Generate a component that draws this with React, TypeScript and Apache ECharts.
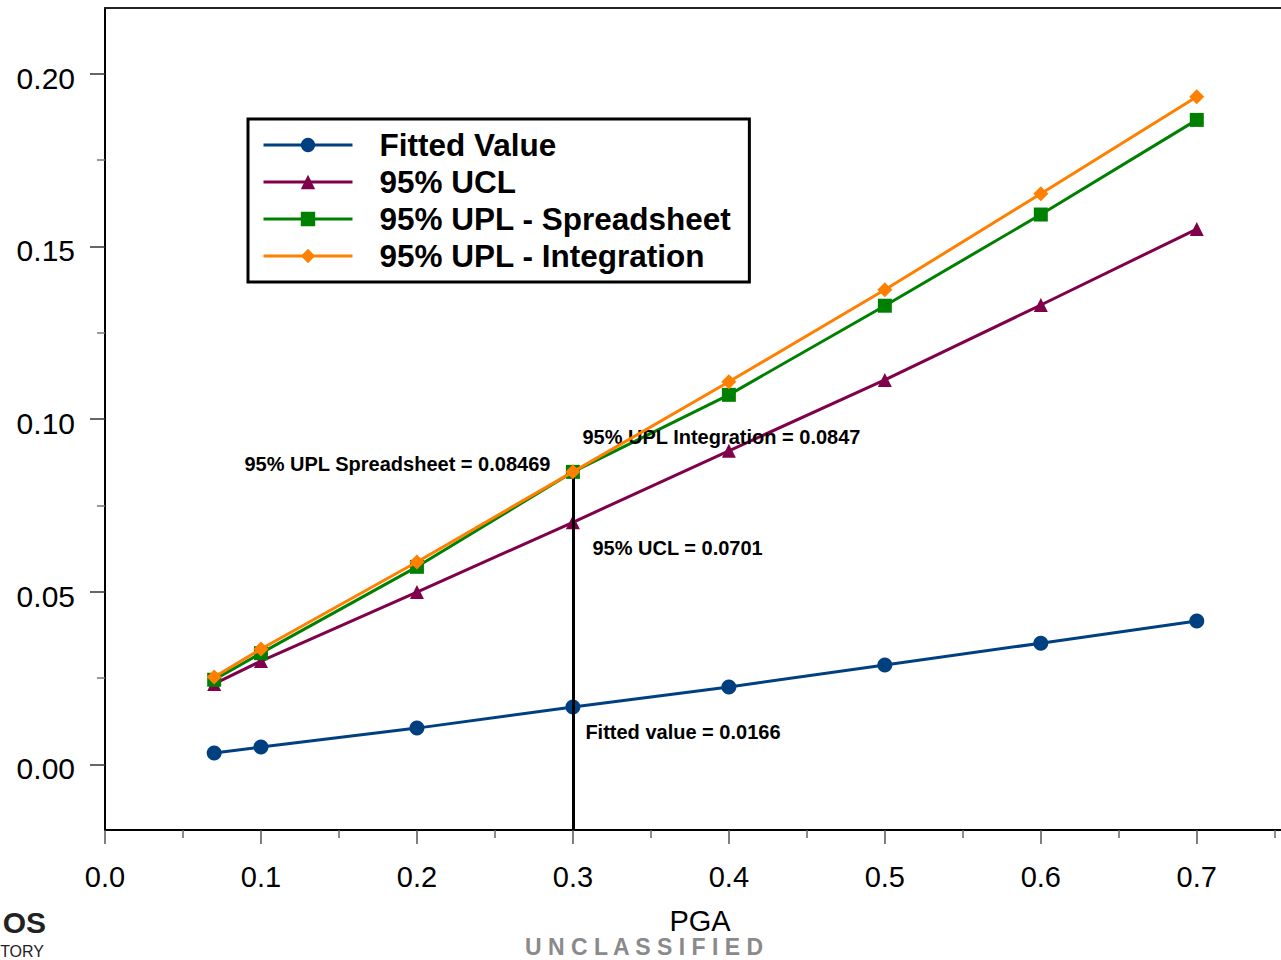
import React, { useEffect, useRef } from "react";
import * as echarts from "echarts";

const FONT = "'Liberation Sans', Arial, Helvetica, sans-serif";

const seriesNames = ["Fitted Value", "95% UCL", "95% UPL - Spreadsheet", "95% UPL - Integration"];
const pga = [0.07, 0.1, 0.2, 0.3, 0.4, 0.5, 0.6, 0.7];
const fittedValue = [0.0033, 0.005, 0.0105, 0.0166, 0.0224, 0.0288, 0.0351, 0.0415];
const ucl95 = [0.0233, 0.0299, 0.0499, 0.0701, 0.0908, 0.1113, 0.133, 0.155];
const uplSpreadsheet = [0.0245, 0.0322, 0.0572, 0.08469, 0.107, 0.1328, 0.1592, 0.1866];
const uplIntegration = [0.0253, 0.0334, 0.0586, 0.0847, 0.1108, 0.1374, 0.1652, 0.1933];

const xMajorTicks = [0, 0.1, 0.2, 0.3, 0.4, 0.5, 0.6, 0.7];
const xMinorTicks = [0.05, 0.15, 0.25, 0.35, 0.45, 0.55, 0.65, 0.75];
const yMajorTicks = [0, 0.05, 0.1, 0.15, 0.2];
const yMinorTicks = [0.025, 0.075, 0.125, 0.175];

const X_MIN = 0;
const X_MAX = 0.754;
const Y_MIN = -0.019;
const Y_MAX = 0.219;

const highlightIndex = 3; // PGA = 0.3

const colors = ["#004080", "#80004a", "#008000", "#ff8000"];
const symbols = ["circle", "triangle", "rect", "diamond"];
const symbolSizes = [15, 14, 14, 15];

export default function App() {
  const ref = useRef<HTMLDivElement>(null);

  useEffect(() => {
    if (!ref.current) return;
    const chart = echarts.init(ref.current, undefined, { renderer: "svg" });
    const allData = [fittedValue, ucl95, uplSpreadsheet, uplIntegration];
    const hx = pga[highlightIndex];

    const annotation = (text: string, value: number, position: number[], align: string) => ({
      symbol: "rect",
      symbolSize: 1,
      silent: true,
      itemStyle: { color: "rgba(0,0,0,0)" },
      label: {
        show: true,
        formatter: text,
        position,
        align,
        verticalAlign: "middle",
        fontFamily: FONT,
        fontSize: 20,
        fontWeight: "bold",
        color: "#000",
      },
      data: [{ coord: [hx, value] }],
    });

    const marks = [
      annotation(`Fitted value = ${fittedValue[highlightIndex]}`, fittedValue[highlightIndex], [13, 25], "left"),
      annotation(`95% UCL = ${ucl95[highlightIndex]}`, ucl95[highlightIndex], [20, 26], "left"),
      annotation(`95% UPL Spreadsheet = ${uplSpreadsheet[highlightIndex]}`, uplSpreadsheet[highlightIndex], [-22, -7], "right"),
      annotation(`95% UPL Integration = ${uplIntegration[highlightIndex]}`, uplIntegration[highlightIndex], [10, -34], "left"),
    ];

    const series: any[] = seriesNames.map((name, i) => ({
      name,
      type: "line",
      xAxisIndex: 0,
      yAxisIndex: 0,
      data: pga.map((x, j) => [x, allData[i][j]]),
      symbol: symbols[i],
      symbolSize: symbolSizes[i],
      showAllSymbol: true,
      color: colors[i],
      lineStyle: { color: colors[i], width: 3 },
      itemStyle: { color: colors[i] },
      markPoint: marks[i],
      z: 2 + i,
    }));

    series[2].markLine = {
      silent: true,
      symbol: ["none", "none"],
      label: { show: false },
      lineStyle: { color: "#000", width: 3, type: "solid" },
      emphasis: { disabled: true },
      data: [[{ coord: [hx, uplSpreadsheet[highlightIndex]] }, { coord: [hx, Y_MIN] }]],
    };

    const baseX = { type: "value", min: X_MIN, max: X_MAX, splitLine: { show: false } };
    const baseY = { type: "value", min: Y_MIN, max: Y_MAX, splitLine: { show: false } };

    chart.setOption({
      animation: false,
      backgroundColor: "#fff",
      grid: { left: 105, top: 8, right: 0, bottom: 130, containLabel: false, outerBoundsMode: "none" },
      xAxis: [
        {
          ...baseX,
          position: "bottom",
          name: "PGA",
          nameLocation: "middle",
          nameGap: 76,
          nameTextStyle: { fontFamily: FONT, fontSize: 29, color: "#000", padding: [0, 0, 0, 14] },
          axisLine: { show: true, onZero: false, lineStyle: { color: "#000", width: 2 } },
          axisTick: { show: true, length: 14, customValues: xMajorTicks, lineStyle: { color: "#555", width: 1.5 } },
          axisLabel: {
            show: true,
            customValues: xMajorTicks,
            margin: 32,
            fontFamily: FONT,
            fontSize: 29,
            color: "#000",
            formatter: (v: number) => v.toFixed(1),
          },
        },
        {
          ...baseX,
          position: "bottom",
          axisLine: { show: false, onZero: false },
          axisTick: { show: true, length: 8, customValues: xMinorTicks, lineStyle: { color: "#666", width: 1.5 } },
          axisLabel: { show: false },
        },
        {
          ...baseX,
          position: "top",
          axisLine: { show: true, onZero: false, lineStyle: { color: "#222", width: 2 } },
          axisTick: { show: false },
          axisLabel: { show: false },
        },
      ],
      yAxis: [
        {
          ...baseY,
          position: "left",
          axisLine: { show: true, onZero: false, lineStyle: { color: "#000", width: 2 } },
          axisTick: { show: true, length: 15, customValues: yMajorTicks, lineStyle: { color: "#333", width: 1.5 } },
          axisLabel: {
            show: true,
            customValues: yMajorTicks,
            margin: 30,
            color: "#000",
            formatter: (v: number) => `{t|${v.toFixed(2)}}`,
            rich: {
              t: {
                fontFamily: FONT,
                fontSize: 30,
                color: "#000",
                padding: [9, 0, 0, 0],
              },
            },
          },
        },
        {
          ...baseY,
          position: "left",
          axisLine: { show: false, onZero: false },
          axisTick: { show: true, length: 8, customValues: yMinorTicks, lineStyle: { color: "#777", width: 1.5 } },
          axisLabel: { show: false },
        },
      ],
      legend: {
        data: seriesNames,
        orient: "vertical",
        left: 248,
        top: 119,
        padding: [10, 18, 10, 14],
        itemWidth: 89,
        itemHeight: 18,
        itemGap: 5,
        selectedMode: false,
        borderColor: "#000",
        borderWidth: 3,
        backgroundColor: "#fff",
        lineStyle: { width: 3 },
        textStyle: {
          fontFamily: FONT,
          fontSize: 31.5,
          fontWeight: "bold",
          color: "#000",
          padding: [0, 0, 0, 22],
        },
      },
      graphic: [
        {
          type: "text",
          x: 644,
          y: 947,
          style: {
            text: "U N C L A S S I F I E D",
            font: `bold 23px ${FONT}`,
            fill: "#8a8a8a",
            align: "center",
            verticalAlign: "middle",
          },
        },
        {
          type: "text",
          x: 46,
          y: 922,
          style: {
            text: "OS",
            font: `bold 30px ${FONT}`,
            fill: "#222",
            align: "right",
            verticalAlign: "middle",
          },
        },
        {
          type: "text",
          x: 44,
          y: 951,
          style: {
            text: "TORY",
            font: `16px ${FONT}`,
            fill: "#222",
            align: "right",
            verticalAlign: "middle",
          },
        },
      ],
      series,
    });

    return () => chart.dispose();
  }, []);

  return (
    <div
      ref={ref}
      style={{ position: "absolute", left: 0, top: 0, width: 1281, height: 960 }}
    />
  );
}
